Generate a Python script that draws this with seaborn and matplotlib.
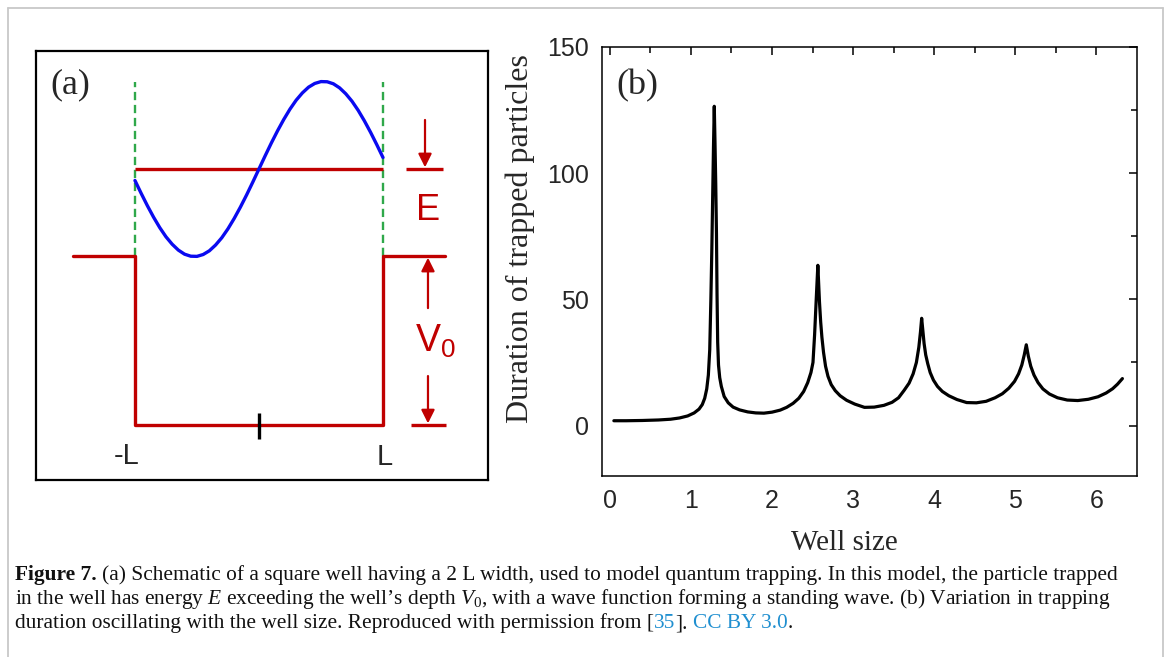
import matplotlib
matplotlib.use("Agg")
import matplotlib.pyplot as plt
from matplotlib.lines import Line2D
import seaborn as sns

# ---------------- data: panel (b) ----------------
well_size = [0.05, 0.20, 0.40, 0.60, 0.75, 0.86, 0.96, 1.04, 1.10, 1.14, 1.17, 1.195,
             1.215, 1.232, 1.246, 1.258, 1.268, 1.278, 1.288, 1.297, 1.306, 1.315, 1.322,
             1.330, 1.340, 1.355, 1.375, 1.41, 1.46, 1.52, 1.60, 1.70, 1.80, 1.90, 2.00,
             2.10, 2.18, 2.26, 2.33, 2.39, 2.44, 2.48, 2.505, 2.525, 2.545, 2.565, 2.585,
             2.60, 2.615, 2.635, 2.66, 2.69, 2.73, 2.78, 2.84, 2.92, 3.02, 3.14, 3.26,
             3.38, 3.48, 3.56, 3.63, 3.69, 3.74, 3.78, 3.81, 3.83, 3.845, 3.86, 3.875,
             3.895, 3.92, 3.95, 3.99, 4.04, 4.10, 4.18, 4.28, 4.40, 4.52, 4.64, 4.75,
             4.84, 4.92, 4.99, 5.04, 5.08, 5.11, 5.135, 5.16, 5.19, 5.23, 5.28, 5.34,
             5.42, 5.52, 5.64, 5.77, 5.90, 6.02, 6.12, 6.20, 6.26, 6.32]
duration = [1.9, 1.9, 2.0, 2.2, 2.5, 3.0, 3.8, 5.0, 6.5, 8.3, 10.8, 14.5,
            20.0, 30.0, 50.0, 70.0, 90.0, 110.0, 126.5, 112.0, 96.0, 76.0, 52.0,
            33.0, 24.0, 19.0, 15.5, 11.5, 9.0, 7.3, 6.2, 5.4, 5.0, 4.9, 5.3,
            6.1, 7.2, 8.8, 10.8, 13.5, 17.0, 21.0, 25.0, 36.0, 50.0, 63.5, 49.0,
            41.0, 35.0, 29.0, 23.5, 19.5, 16.2, 13.8, 11.8, 10.0, 8.5, 7.2, 7.3,
            8.0, 9.2, 11.0, 14.0, 16.8, 20.5, 25.0, 31.0, 37.0, 42.5, 37.5, 32.5,
            28.0, 24.5, 21.0, 18.0, 15.5, 13.5, 11.8, 10.3, 9.1, 9.0, 9.6, 11.0,
            12.6, 14.8, 17.5, 20.5, 24.0, 28.0, 32.0, 27.5, 23.5, 20.0, 17.0, 14.5,
            12.5, 11.0, 10.1, 9.9, 10.4, 11.4, 12.9, 14.6, 16.4, 18.6]
x_major = [0, 1, 2, 3, 4, 5, 6]
x_minor = [0.5, 1.5, 2.5, 3.5, 4.5, 5.5]
y_major = [0, 50, 100, 150]
y_minor = [25, 75, 125]
x_tick_labels = ["0", "1", "2", "3", "4", "5", "6"]
y_tick_labels = ["0", "50", "100", "150"]

# ---------------- data: panel (a) schematic ----------------
wave_pos = [-1.00, -0.95, -0.90, -0.85, -0.80, -0.75, -0.70, -0.65, -0.60, -0.55, -0.50,
            -0.45, -0.40, -0.35, -0.30, -0.25, -0.20, -0.15, -0.10, -0.05, 0.00,
            0.05, 0.10, 0.15, 0.20, 0.25, 0.30, 0.35, 0.40, 0.45, 0.50,
            0.55, 0.60, 0.65, 0.70, 0.75, 0.80, 0.85, 0.90, 0.95, 1.00]
wave_amp = [1.447, 1.371, 1.298, 1.230, 1.168, 1.114, 1.070, 1.035, 1.011, 0.999, 0.998,
            1.009, 1.031, 1.065, 1.108, 1.161, 1.222, 1.289, 1.361, 1.437, 1.515,
            1.593, 1.669, 1.741, 1.808, 1.869, 1.922, 1.965, 1.999, 2.021, 2.032,
            2.031, 2.019, 1.995, 1.960, 1.916, 1.862, 1.800, 1.732, 1.659, 1.583]
well_pos = [-1.5, -1.0, -1.0, 1.0, 1.0, 1.5]
well_level = [1.0, 1.0, 0.0, 0.0, 1.0, 1.0]
energy_level = 1.515
half_width = 1.0
wall_labels = ["-L", "L"]

caption_l1 = ["Figure 7.", "(a) Schematic of a square well having a 2 L width, used to model quantum trapping. In this model, the particle trapped"]
caption_l2 = r"in the well has energy $E$ exceeding the well’s depth $V_0$, with a wave function forming a standing wave. (b) Variation in trapping"
caption_l3 = ["duration oscillating with the well size. Reproduced with permission from [", "35", "].", "CC BY 3.0", "."]

# ---------------- style ----------------
sns.set_theme(style="white")
plt.rcParams["font.family"] = ["Liberation Serif", "DejaVu Serif"]
plt.rcParams["mathtext.fontset"] = "custom"
plt.rcParams["mathtext.rm"] = "Liberation Serif"
plt.rcParams["mathtext.it"] = "Liberation Serif:italic"
plt.rcParams["mathtext.bf"] = "Liberation Serif:bold"

RED = "#c00000"
BLUE = "#0a0af0"
GREEN = "#2fa84a"
LINK = "#1f8fd0"
INK = "#111111"

W, H = 1167, 657
fig = plt.figure(figsize=(W / 100, H / 100), dpi=100)
fig.patch.set_facecolor("white")


def px_rect(l, t, r, b):
    return [l / W, 1 - b / H, (r - l) / W, (b - t) / H]


# outer light-gray frame (open at bottom)
for xs, ys in [([7.5, 7.5], [H, 7.5]), ([7.5, 1162.5], [7.5, 7.5]), ([1162.5, 1162.5], [7.5, H])]:
    fig.add_artist(Line2D([x / W for x in xs], [1 - y / H for y in ys],
                          color="#c8c8c8", lw=1.3, transform=fig.transFigure))

# ---------------- panel (a) ----------------
axA = fig.add_axes(px_rect(36, 51, 488, 480))
axA.set_xlim(-1.798, 1.847)
axA.set_ylim(-0.325, 2.213)
axA.set_xticks([])
axA.set_yticks([])
for s in axA.spines.values():
    s.set_color("black")
    s.set_linewidth(1.6)

axA.vlines([-half_width, half_width], 1.0, 2.03, colors=GREEN, linestyles=(0, (3.5, 2)), lw=1.7, zorder=1)
sns.lineplot(x=well_pos, y=well_level, ax=axA, color=RED, lw=2.4, sort=False, estimator=None)
axA.hlines(energy_level, -half_width, half_width, color=RED, lw=2.4)
sns.lineplot(x=wave_pos, y=wave_amp, ax=axA, color=BLUE, lw=2.4, sort=False, estimator=None)
axA.vlines(0, -0.083, 0.071, color="black", lw=2.4)

# right-hand scale marks
axA.hlines(energy_level, 1.185, 1.484, color=RED, lw=2.4)
axA.hlines(0.0, 1.226, 1.508, color=RED, lw=2.4)
ap = dict(arrowstyle="-|>", color=RED, lw=1.6, mutation_scale=20, shrinkA=0, shrinkB=0)
axA.annotate("", xy=(1.339, energy_level + 0.01), xytext=(1.339, 1.805), arrowprops=ap)
axA.annotate("", xy=(1.363, 0.99), xytext=(1.363, 0.692), arrowprops=ap)
axA.annotate("", xy=(1.363, 0.01), xytext=(1.363, 0.29), arrowprops=ap)

axA.text(-1.685, 2.01, "(a)", fontsize=26, ha="left", va="center", family="Liberation Serif")
axA.text(-1.065, -0.183, wall_labels[0], fontsize=21, ha="center", va="center", family="Liberation Sans")
axA.text(1.016, -0.189, wall_labels[1], fontsize=21, ha="center", va="center", family="Liberation Sans")
axA.text(1.363, 1.272, "E", fontsize=26, color=RED, ha="center", va="center", family="Liberation Sans")
axA.text(1.258, 0.432, r"$\mathregular{V_0}$", fontsize=27, color=RED, ha="left", va="baseline",
         family="Liberation Sans")

# ---------------- panel (b) ----------------
axB = fig.add_axes(px_rect(601.7, 47, 1137, 476))
sns.lineplot(x=well_size, y=duration, ax=axB, color="black", lw=2.3, sort=False, estimator=None)
axB.set_xlim(-0.1, 6.5)
axB.set_ylim(-20, 150)
axB.set_xticks(x_major)
axB.set_xticks(x_minor, minor=True)
axB.set_yticks(y_major)
axB.set_yticks(y_minor, minor=True)
axB.set_xticklabels(x_tick_labels, fontsize=18, family="Liberation Sans")
axB.set_yticklabels(y_tick_labels, fontsize=18, family="Liberation Sans")
axB.tick_params(which="both", direction="in", top=True, right=True, color="black", width=1.1)
axB.tick_params(which="major", length=6, pad=9)
axB.tick_params(which="minor", length=4)
for s in axB.spines.values():
    s.set_color("black")
    s.set_linewidth(1.1)
axB.set_xlabel("Well size", fontsize=21, family="Liberation Serif")
axB.set_ylabel("Duration of trapped particles", fontsize=23, family="Liberation Serif")
axB.xaxis.set_label_coords(0.4527, -0.127)
axB.yaxis.set_label_coords(-0.125, 0.5536)
axB.text(0.08, 134.6, "(b)", fontsize=26, ha="left", va="center", family="Liberation Serif")

# ---------------- caption ----------------
renderer = fig.canvas.get_renderer()
probe = fig.text(0, 0, caption_l2, fontsize=14, family="Liberation Serif")
w14 = probe.get_window_extent(renderer).width
probe.remove()
cap_size = 14 * 1100 / w14
space_px = cap_size * 100 / 72 * 0.25


def place(pieces, colors, weights, gaps, base_px, x0=15):
    x = x0
    for piece, col, wt, gap in zip(pieces, colors, weights, gaps):
        x += gap
        t = fig.text(x / W, 1 - base_px / H, piece, fontsize=cap_size, color=col, va="baseline",
                     ha="left", family="Liberation Serif", fontweight=wt)
        x = t.get_window_extent(renderer).x1


place(caption_l1, [INK, INK], ["bold", "normal"], [0, space_px], 580)
fig.text(15 / W, 1 - 604 / H, caption_l2, fontsize=cap_size, color=INK, va="baseline",
         ha="left", family="Liberation Serif")
place(caption_l3, [INK, LINK, INK, LINK, INK], ["normal"] * 5, [0, 0, 0, space_px, 0], 628)

fig.savefig("out.png", dpi=100, facecolor="white")
